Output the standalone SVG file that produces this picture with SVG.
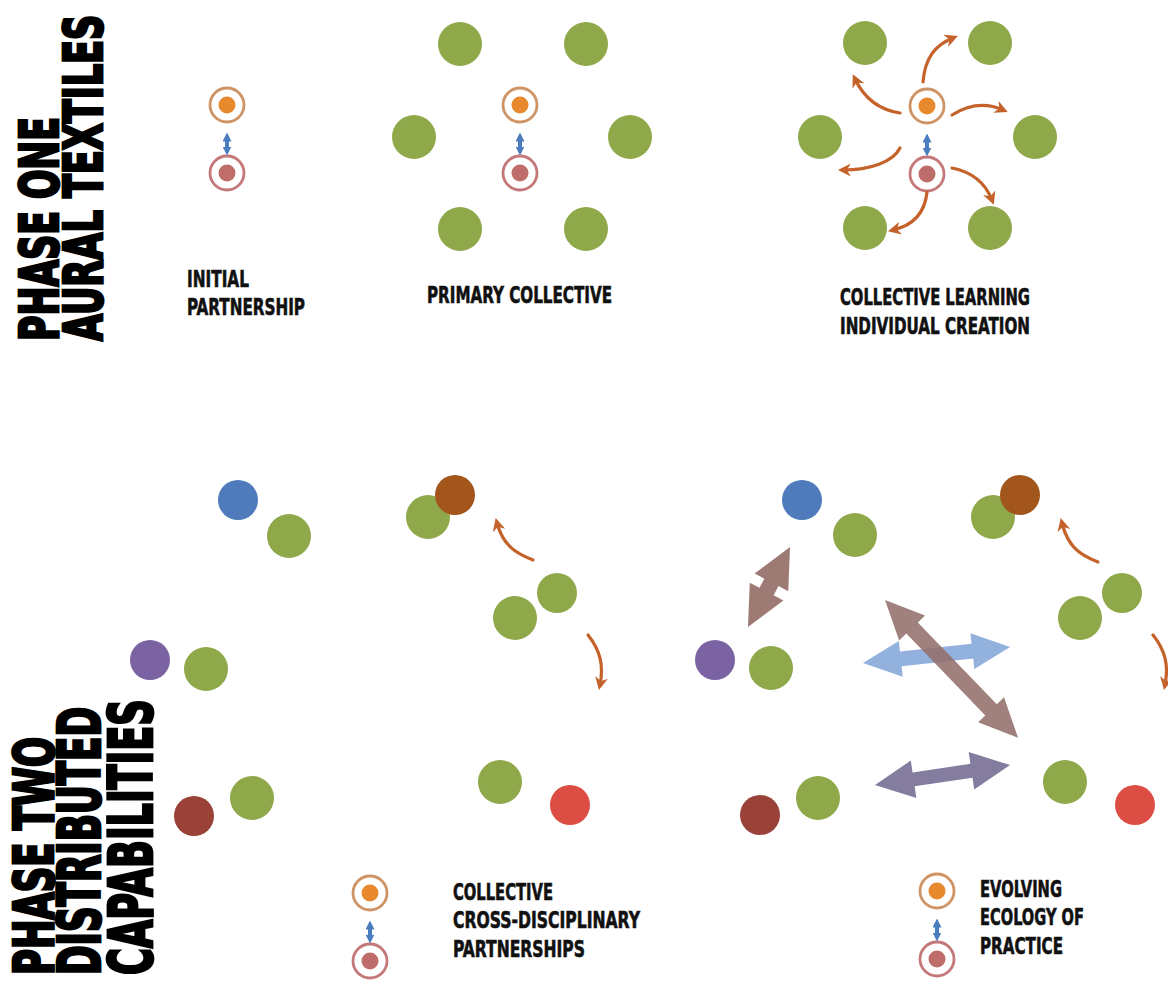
<svg xmlns="http://www.w3.org/2000/svg" width="1168" height="981" viewBox="0 0 1168 981">
<style>
.hd{font-family:"Liberation Sans Narrow","DejaVu Sans Condensed","Liberation Sans",sans-serif;font-weight:bold;fill:#000;stroke:#000;stroke-width:2.8;stroke-linejoin:miter}
.lb{font-family:"Liberation Sans Narrow","DejaVu Sans Condensed","Liberation Sans",sans-serif;font-weight:bold;font-size:23px;fill:#111;stroke:#111;stroke-width:0.6}
.g{fill:#8ea84a}
.ring1{fill:none;stroke:#cf9466;stroke-width:2.8}
.ring2{fill:none;stroke:#c4787a;stroke-width:2.8}
.dot1{fill:#e8892e}
.dot2{fill:#bf6d6a}
.oa{fill:none;stroke:#c4622a;stroke-width:3.2;stroke-linecap:round;marker-end:url(#oh)}
.ba{stroke:#4a7cc0;stroke-width:4}
</style>
<defs>
<marker id="oh" markerUnits="userSpaceOnUse" viewBox="0 0 10 10" markerWidth="13" markerHeight="13" refX="6" refY="5" orient="auto">
<path d="M0,0 L10,5 L0,10 L3,5 z" fill="#c4622a"/>
</marker>
<marker id="bh" markerUnits="userSpaceOnUse" viewBox="0 0 10 10" markerWidth="9" markerHeight="9" refX="5" refY="5" orient="auto-start-reverse">
<path d="M0,0 L10,5 L0,10 z" fill="#4a7cc0"/>
</marker>
<g id="pair">
<circle class="ring1" cx="0" cy="0" r="17"/>
<circle class="dot1" cx="0" cy="0" r="8.5"/>
<circle class="ring2" cx="0" cy="68" r="17"/>
<circle class="dot2" cx="0" cy="68" r="8.5"/>
<line class="ba" x1="0" y1="32" x2="0" y2="46" marker-start="url(#bh)" marker-end="url(#bh)"/>
</g>
</defs>
<rect width="1168" height="981" fill="#fff"/>

<g id="headings">
<text class="hd" font-size="54" textLength="320" lengthAdjust="spacingAndGlyphs" transform="translate(58,341) rotate(-90) scale(0.7,1)">PHASE ONE</text>
<text class="hd" font-size="54" textLength="466" lengthAdjust="spacingAndGlyphs" transform="translate(102,341) rotate(-90) scale(0.7,1)">AURAL TEXTILES</text>
<text class="hd" font-size="55" textLength="340" lengthAdjust="spacingAndGlyphs" transform="translate(53,975) rotate(-90) scale(0.7,1)">PHASE TWO</text>
<text class="hd" font-size="58" textLength="383" lengthAdjust="spacingAndGlyphs" transform="translate(100,975) rotate(-90) scale(0.7,1)">DISTRIBUTED</text>
<text class="hd" font-size="61" textLength="394" lengthAdjust="spacingAndGlyphs" transform="translate(152,975) rotate(-90) scale(0.7,1)">CAPABILITIES</text>
</g>

<g id="labels">
<text class="lb" x="187" y="287" textLength="62" lengthAdjust="spacingAndGlyphs">INITIAL</text>
<text class="lb" x="187" y="315" textLength="118" lengthAdjust="spacingAndGlyphs">PARTNERSHIP</text>
<text class="lb" x="427" y="303" textLength="185" lengthAdjust="spacingAndGlyphs">PRIMARY COLLECTIVE</text>
<text class="lb" x="840" y="305" textLength="190" lengthAdjust="spacingAndGlyphs">COLLECTIVE LEARNING</text>
<text class="lb" x="840" y="334" textLength="190" lengthAdjust="spacingAndGlyphs">INDIVIDUAL CREATION</text>
<text class="lb" x="453" y="900" textLength="100" lengthAdjust="spacingAndGlyphs">COLLECTIVE</text>
<text class="lb" x="453" y="928" textLength="187" lengthAdjust="spacingAndGlyphs">CROSS-DISCIPLINARY</text>
<text class="lb" x="453" y="957" textLength="132" lengthAdjust="spacingAndGlyphs">PARTNERSHIPS</text>
<text class="lb" x="980" y="897" textLength="82" lengthAdjust="spacingAndGlyphs">EVOLVING</text>
<text class="lb" x="980" y="925" textLength="104" lengthAdjust="spacingAndGlyphs">ECOLOGY OF</text>
<text class="lb" x="980" y="954" textLength="83" lengthAdjust="spacingAndGlyphs">PRACTICE</text>
</g>

<g id="initial-partnership">
<use href="#pair" x="227" y="105"/>
</g>

<g id="primary-collective">
<circle class="g" cx="460" cy="44" r="22"/>
<circle class="g" cx="586" cy="44" r="22"/>
<circle class="g" cx="414" cy="137" r="22"/>
<circle class="g" cx="630" cy="137" r="22"/>
<circle class="g" cx="460" cy="229" r="22"/>
<circle class="g" cx="586" cy="229" r="22"/>
<use href="#pair" x="520" y="105"/>
</g>

<g id="collective-learning">
<circle class="g" cx="865" cy="43" r="22"/>
<circle class="g" cx="990" cy="43" r="22"/>
<circle class="g" cx="820" cy="137" r="22"/>
<circle class="g" cx="1035" cy="137" r="22"/>
<circle class="g" cx="865" cy="228" r="22"/>
<circle class="g" cx="990" cy="228" r="22"/>
<use href="#pair" x="927" y="106"/>
</g>

<g id="cluster-a">
<circle cx="238" cy="500" r="20" fill="#4f7bbd"/>
<circle class="g" cx="289" cy="536" r="22"/>
<circle cx="150" cy="660" r="20" fill="#7a62a3"/>
<circle class="g" cx="206" cy="669" r="22"/>
<circle cx="194" cy="816" r="20" fill="#9b4238"/>
<circle class="g" cx="252" cy="798" r="22"/>
</g>

<g id="cluster-b">
<circle class="g" cx="428" cy="517" r="22"/>
<circle cx="455" cy="495" r="20" fill="#a3561b"/>
<circle class="g" cx="557" cy="593" r="20"/>
<circle class="g" cx="515" cy="618" r="22"/>
<circle class="g" cx="500" cy="782" r="22"/>
<circle cx="570" cy="805" r="20" fill="#dc4d43"/>
</g>

<g id="cluster-c">
<circle cx="802" cy="500" r="20" fill="#4f7bbd"/>
<circle class="g" cx="855" cy="535" r="22"/>
<circle cx="715" cy="660" r="20" fill="#7a62a3"/>
<circle class="g" cx="771" cy="668" r="22"/>
<circle cx="760" cy="815" r="20" fill="#9b4238"/>
<circle class="g" cx="818" cy="798" r="22"/>
</g>

<g id="cluster-d">
<circle class="g" cx="993" cy="517" r="22"/>
<circle cx="1020" cy="495" r="20" fill="#a3561b"/>
<circle class="g" cx="1122" cy="593" r="20"/>
<circle class="g" cx="1080" cy="618" r="22"/>
<circle class="g" cx="1065" cy="782" r="22"/>
<circle cx="1135" cy="805" r="20" fill="#dc4d43"/>
</g>

<g id="partnership-b">
<use href="#pair" x="370" y="893"/>
</g>
<g id="partnership-d">
<use href="#pair" x="937" y="891"/>
</g>

<g id="connectors">
<path class="oa" d="M923,82 C925,58 935,45 953,38"/>
<path class="oa" d="M900,113 C880,110 865,100 855,79"/>
<path class="oa" d="M952,115 C968,105 985,102 1003,110"/>
<path class="oa" d="M900,148 C893,162 870,170 843,170"/>
<path class="oa" d="M952,168 C972,172 985,182 992,200"/>
<path class="oa" d="M927,192 C925,212 915,225 893,230"/>
<path class="oa" d="M533,560 C515,553 503,545 497,523"/>
<path class="oa" d="M588,635 C600,650 604,665 600,685"/>
<path class="oa" d="M1098,562 C1080,555 1068,547 1062,523"/>
<path class="oa" d="M1153,635 C1165,650 1169,665 1165,685"/>
<polygon fill="#9e7a75" transform="translate(748,627) rotate(-62.3)" points="0,0 40,-19 40,-8 50.4,-8 50.4,-19 90.4,0 50.4,19 50.4,8 40,8 40,19"/>
<polygon fill="#86a8d8" opacity="0.9" transform="translate(863,663) rotate(-6.2)" points="0,0 38,-18 38,-7.5 110,-7.5 110,-18 148,0 110,18 110,7.5 38,7.5 38,18"/>
<polygon fill="#94706b" opacity="0.88" transform="translate(885,600) rotate(46)" points="0,0 39,-18 39,-8 152.7,-8 152.7,-18 191.7,0 152.7,18 152.7,8 39,8 39,18"/>
<polygon fill="#847da0" transform="translate(875,785) rotate(-8.4)" points="0,0 39,-19 39,-7 97.5,-7 97.5,-19 136.5,0 97.5,19 97.5,7 39,7 39,19"/>
</g>
</svg>
